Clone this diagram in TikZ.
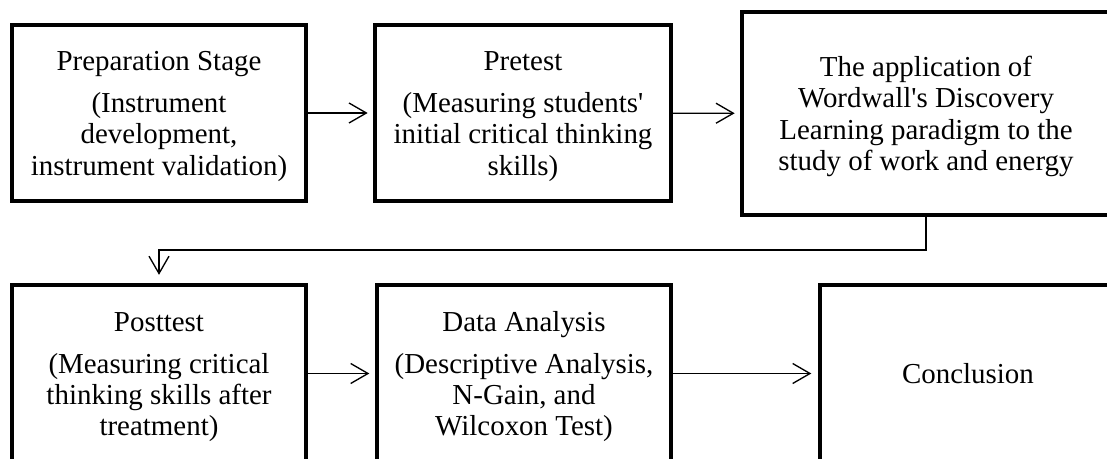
\documentclass[tikz,border=0pt]{standalone}
\usepackage{fontspec}
\setmainfont{Liberation Serif}
\usepackage{tikz}
\usetikzlibrary{arrows.meta}
\newcommand{\tgap}{\rule{0pt}{19.5pt}}

\begin{document}
\begin{tikzpicture}[x=0.75pt,y=-0.75pt,
  box/.style={draw,line width=3pt,rectangle,align=center,inner sep=0pt,
    font=\fontsize{21.7}{23.5}\selectfont},
  arr/.style={line width=1pt,->,>={Straight Barb[length=13pt,width=15pt]}}]
\useasboundingbox (0,0) rectangle (1107,459);
\clip (0,0) rectangle (1107,459);
\node[box,minimum width=220pt,minimum height=132pt] (0) at (159,113) {\tgap Preparation Stage\\[8pt](Instrument\\development,\\instrument validation)};
\node[box,minimum width=222pt,minimum height=132pt] (1) at (523,113) {\tgap Pretest\\[8pt](Measuring students\textquotesingle\\initial critical thinking\\skills)};
\node[box,minimum width=276pt,minimum height=152pt] (2) at (926,113.5) {\tgap The application of\\Wordwall\textquotesingle s Discovery\\Learning paradigm to the\\study of work and energy};
\node[box,minimum width=220pt,minimum height=133pt] (3) at (159,373.5) {\tgap Posttest\\[8pt](Measuring critical\\thinking skills after\\treatment)};
\node[box,minimum width=221pt,minimum height=133pt] (4) at (524,373.5) {\tgap Data Analysis\\[8pt](Descriptive Analysis,\\N-Gain, and\\Wilcoxon Test)};
\node[box,minimum width=222pt,minimum height=133pt] (5) at (968,373.5) {Conclusion};
\coordinate (6) at (159,250);
\draw [arr,shorten >=4pt](0)--(1);
\draw [arr,shorten >=4pt](1)--(2);
\draw [arr,shorten >=6pt](2.south)|-(6)--(3.north);
\draw [arr,shorten >=4pt](3)--(4);
\draw [arr,shorten >=5pt](4)--(5);
\end{tikzpicture}
\end{document}
